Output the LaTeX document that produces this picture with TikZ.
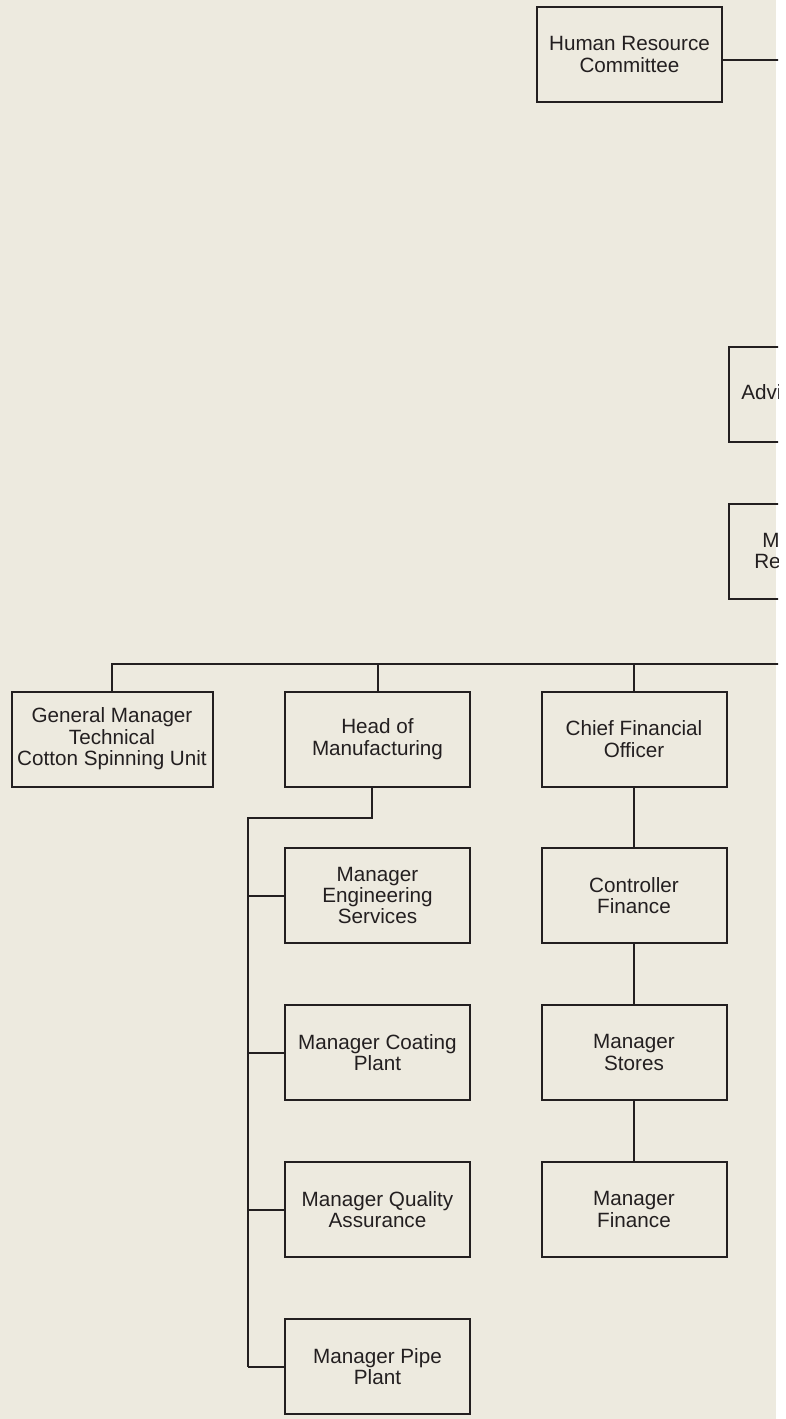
\documentclass[tikz,border=0pt]{standalone}
\usepackage{fontspec}
\setmainfont{Liberation Sans}
\definecolor{paper}{HTML}{EDEADF}
\definecolor{ink}{HTML}{231F20}
\tikzset{
  post/.style={draw=ink, line width=1.5pt, rectangle, align=center, inner sep=0pt,
    minimum width=138.75pt, minimum height=71.25pt, text=ink,
    font=\fontsize{15.5}{16.1}\selectfont},
  wire/.style={draw=ink, line width=1.5pt},
  cut/.style={text=ink, inner sep=0pt, font=\fontsize{15.5}{16.1}\selectfont}
}
\begin{document}
\begin{tikzpicture}[x=0.75pt, y=-0.75pt]
\useasboundingbox (0,0) rectangle (785,1419);
\fill[white] (0,0) rectangle (785,1419);
\fill[paper] (0,0) rectangle (776,1419);
\begin{scope}
\clip (0,0) rectangle (778,1419);

% Board committees on the right (cut off by the page edge)
\node[post] (hrc) at (629.5,54.5) {Human Resource\\Committee};
\coordinate (hrout) at (779,60);
\draw[wire] (hrc.east |- hrout) -- (hrout);

\node[post, anchor=north west] (adv) at (728,346) {};
\node[cut, anchor=base west] (advtxt) at (741,399) {Advi};
\node[post, anchor=north west] (mre) at (728,503) {};
\node[cut, anchor=base west] (mretxt1) at (762,547) {M};
\node[cut, anchor=base west] (mretxt2) at (754,568) {Re};

% Top row of heads
\node[post, minimum width=150.75pt] (gmt) at (112,739) {General Manager\\Technical\\Cotton Spinning Unit};
\node[post] (hom) at (377.5,739) {Head of\\Manufacturing};
\node[post] (cfo) at (634,739) {Chief Financial\\Officer};

\coordinate (busend) at (779,664);
\draw[wire] (gmt.north) -- (gmt.north |- busend) -- (busend);
\draw[wire] (hom.north) -- (hom.north |- busend);
\draw[wire] (cfo.north) -- (cfo.north |- busend);

% Manufacturing managers
\coordinate (hmdrop) at (372,818);
\coordinate (spine) at (248,818);
\foreach \i/\nm/\txt in {
    0/eng/Manager\\Engineering\\Services,
    1/coat/Manager Coating\\Plant,
    2/qa/Manager Quality\\Assurance,
    3/pipe/Manager Pipe\\Plant
} {
    \node[post] (\nm) at (377.5,895.5+157*\i) {\txt};
    \draw[wire] (spine |- \nm.west) -- (\nm.west);
}
\draw[wire] (hmdrop |- hom.south) -- (hmdrop) -- (spine) -- (spine |- pipe.west);

% Finance chain
\foreach \i/\nm/\txt in {
    1/ctrl/Controller\\Finance,
    2/stores/Manager\\Stores,
    3/fin/Manager\\Finance
} {
    \node[post] (\nm) at (634,738.5+157*\i) {\txt};
}
\draw[wire] (cfo) -- (ctrl) -- (stores) -- (fin);
\end{scope}
\end{tikzpicture}
\end{document}
